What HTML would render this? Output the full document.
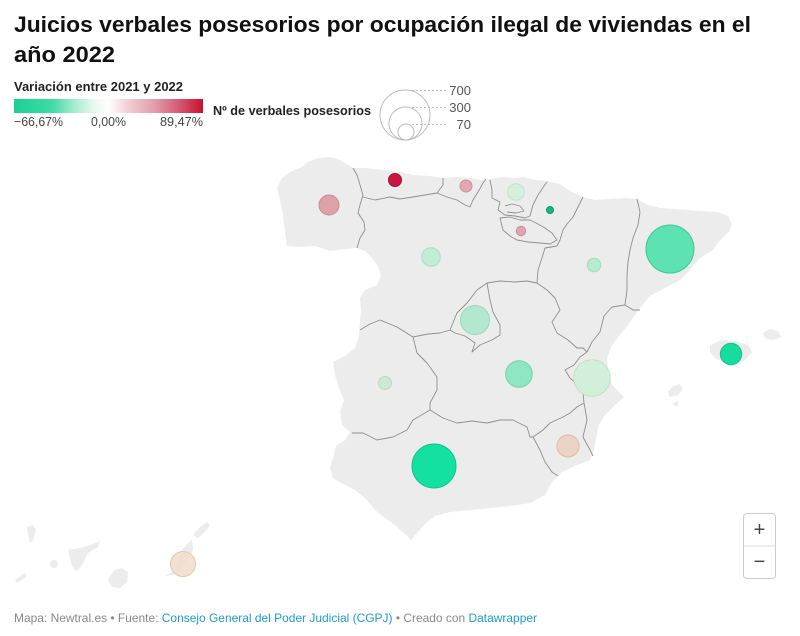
<!DOCTYPE html>
<html><head><meta charset="utf-8"><style>
html,body{margin:0;padding:0;background:#fff;}
svg{display:block;}
text{font-family:"Liberation Sans",Arial,sans-serif;}
</style></head><body>
<svg width="800" height="636" viewBox="0 0 800 636" xmlns="http://www.w3.org/2000/svg">
<defs>
<linearGradient id="g" x1="0" x2="1" y1="0" y2="0">
<stop offset="0" stop-color="#1bd095"/>
<stop offset="0.2" stop-color="#3fdaa6"/>
<stop offset="0.32" stop-color="#a6ecd0"/>
<stop offset="0.42" stop-color="#e6f8ee"/>
<stop offset="0.5" stop-color="#ffffff"/>
<stop offset="0.6" stop-color="#f2d0d6"/>
<stop offset="0.75" stop-color="#e19aa8"/>
<stop offset="0.9" stop-color="#d24a68"/>
<stop offset="1" stop-color="#c8102e"/>
</linearGradient>
</defs>
<rect width="800" height="636" fill="#fff"/>
<!-- Title -->
<text x="14" y="32" font-size="22.5" font-weight="bold" fill="#111" textLength="737" lengthAdjust="spacingAndGlyphs">Juicios verbales posesorios por ocupación ilegal de viviendas en el</text>
<text x="14" y="62" font-size="22.5" font-weight="bold" fill="#111" textLength="101" lengthAdjust="spacingAndGlyphs">año 2022</text>
<!-- Color legend -->
<text x="14" y="91" font-size="13" font-weight="bold" fill="#222" textLength="169" lengthAdjust="spacingAndGlyphs">Variación entre 2021 y 2022</text>
<rect x="14" y="99" width="189" height="14" fill="url(#g)"/>
<text x="14" y="126" font-size="13" fill="#444" textLength="49" lengthAdjust="spacingAndGlyphs">−66,67%</text>
<text x="91" y="126" font-size="13" fill="#444" textLength="35" lengthAdjust="spacingAndGlyphs">0,00%</text>
<text x="160" y="126" font-size="13" fill="#444" textLength="43" lengthAdjust="spacingAndGlyphs">89,47%</text>
<!-- Size legend -->
<text x="213" y="115" font-size="13" font-weight="bold" fill="#222" textLength="158" lengthAdjust="spacingAndGlyphs">Nº de verbales posesorios</text>
<g fill="none" stroke="#bbb" stroke-width="1">
<circle cx="405" cy="115" r="25"/>
<circle cx="405.5" cy="123.5" r="16.5"/>
<circle cx="406" cy="132" r="8"/>
</g>
<g stroke="#bbb" stroke-width="1" stroke-dasharray="2,2">
<line x1="412" y1="90.5" x2="446" y2="90.5"/>
<line x1="412" y1="107.5" x2="446" y2="107.5"/>
<line x1="412" y1="124.5" x2="446" y2="124.5"/>
</g>
<g font-size="13" fill="#555" text-anchor="end">
<text x="471" y="95">700</text>
<text x="471" y="112">300</text>
<text x="471" y="129">70</text>
</g>
<!-- Land -->
<g fill="#ececec">
<polygon points="277,188 282,178 290,172 300,168 308,162 318,158 330,157 340,160 348,165 353,168 365,168 383,170 400,172 413,175 430,176 443,178 457,177 470,178 483,180 495,178 503,177 515,178 523,177 535,180 547,181 560,184 572,192 583,197 595,200 610,199 625,198 637,199 648,205 660,208 675,209 687,210 700,211 717,212 728,216 732,224 729,232 720,240 713,250 700,258 690,270 680,280 665,288 650,296 640,308 630,322 620,335 612,345 607,358 608,372 612,385 624,397 615,405 605,415 599,425 596,438 594,450 590,460 575,466 562,472 552,482 545,495 530,503 510,506 490,508 470,510 450,512 435,516 425,524 418,532 411,540 405,534 396,526 385,518 375,510 365,498 355,490 343,484 333,478 330,468 333,458 336,446 345,440 350,432 342,425 340,412 344,400 339,388 335,375 333,362 345,356 355,348 359,336 360,322 361,310 360,298 365,290 377,285 381,276 378,266 371,257 365,251 357,248 345,249 330,251 315,246 300,247 287,246 285,232 283,215 280,200"/>
<!-- Balearics -->
<polygon points="710,345 722,340 735,341 748,345 752,352 745,360 735,365 725,363 715,358 710,352"/>
<polygon points="763,333 770,329 778,331 781,337 773,340 765,338"/>
<polygon points="668,392 673,386 680,384 683,389 678,395 670,397"/>
<polygon points="673,403 678,401 678,406 674,406"/>
<!-- Canaries -->
<polygon points="27,527 33,525 36,530 33,540 30,543 28,535"/>
<polygon points="15,580 20,576 25,573 27,576 22,580 17,583"/>
<circle cx="54" cy="564" r="4"/>
<polygon points="68,550 80,548 90,545 100,541 98,547 88,553 82,565 76,572 72,566 70,558"/>
<polygon points="110,576 115,570 122,568 128,572 127,582 120,588 112,587 108,581"/>
<polygon points="165,576 172,572 177,562 182,550 188,543 192,540 193,550 188,560 180,570 172,575"/>
<polygon points="193,535 200,527 207,522 210,525 205,532 198,538"/>
</g>
<!-- Internal borders -->
<g fill="none" stroke="#8e8e8e" stroke-width="0.9" stroke-linejoin="round">
<polyline points="353,168 357,175 360,185 363,195 360,205 358,213 364,222 365,230 360,238 357,248"/>
<polyline points="363,197 375,200 390,197 400,199 413,197 425,195 437,193 443,185 443,178"/>
<polyline points="437,193 447,197 457,200 465,205 470,207 473,200 478,192 483,183 486,179"/>
<polyline points="490,180 492,190 492,198 500,202 498,210 505,215 515,216 525,218 530,216 533,205 538,195 544,186 547,182"/>
<polygon points="500,218 503,230 510,236 517,240 528,242 540,243 550,244 557,240 552,233 545,228 538,224 530,220 520,220 510,217"/>
<polyline points="583,197 578,207 573,217 567,224 563,230 560,240 557,246"/>
<polyline points="557,246 545,248 542,258 538,270 537,283"/>
<polyline points="487,283 500,281 515,282 527,281 537,283"/>
<polyline points="537,283 547,290 555,298 560,310 552,322 557,333 568,340 577,348 583,348 587,352"/>
<polyline points="637,199 640,212 638,225 633,238 630,250 628,262 627,275 627,290 625,305 633,310 640,310"/>
<polyline points="625,305 612,307 604,316 600,332 592,342 587,352"/>
<polyline points="587,352 580,357 574,365 565,370 570,378 578,385 583,392 584,403"/>
<polyline points="584,403 577,407 570,413 563,417 550,423 543,430 533,437"/>
<polyline points="584,403 587,420 583,437 590,450 593,456"/>
<polyline points="533,437 540,450 545,462 552,472 558,476"/>
<polyline points="430,410 443,418 457,423 472,421 487,423 500,420 513,420 527,427 530,437 533,437"/>
<polyline points="413,337 417,353 427,363 437,377 437,390 430,403 430,410"/>
<polyline points="360,330 370,324 380,320 397,327 413,337 428,334 440,333 450,330"/>
<polyline points="450,330 457,313 467,303 477,290 487,283"/>
<polyline points="487,283 490,300 493,312 500,325 500,335 492,340 480,345 472,352 475,343 465,336 455,333 450,330"/>
<polyline points="430,410 413,420 407,430 393,437 377,440 363,433 352,433"/>
<polyline points="505,206 512,204 520,206 524,211 516,213 507,212"/>
</g>
<!-- Circles -->
<g stroke-width="1">
<circle cx="329" cy="205" r="10" fill="#dda2a8" stroke="#c98a92"/>
<circle cx="395" cy="180" r="6.5" fill="#c7163f" stroke="#a8102f"/>
<circle cx="466" cy="186" r="6" fill="#e2aab0" stroke="#cf909a"/>
<circle cx="516" cy="192" r="8.3" fill="#d4efdc" stroke="#bfe3c9"/>
<circle cx="550" cy="210" r="3.5" fill="#15b57b" stroke="#0f9a66"/>
<circle cx="521" cy="231" r="4.7" fill="#e3a5b0" stroke="#cf8c98"/>
<circle cx="431" cy="257" r="9.3" fill="#c1ecd5" stroke="#a9dfc1"/>
<circle cx="594" cy="265" r="6.7" fill="#b9ebd1" stroke="#9fdcbc"/>
<circle cx="670" cy="249" r="24" fill="#5de2b2" stroke="#3cc796"/>
<circle cx="475" cy="320" r="14.5" fill="#b3e8cf" stroke="#98dabb"/>
<circle cx="519" cy="374" r="13.3" fill="#8ee6c2" stroke="#6fd6aa"/>
<circle cx="385" cy="383" r="6.5" fill="#cce9d6" stroke="#b4dcc2"/>
<circle cx="592" cy="378" r="18.3" fill="#d2efd9" stroke="#bde3c6"/>
<circle cx="568" cy="446" r="11" fill="#ecd4c4" stroke="#dcb9a6"/>
<circle cx="434" cy="466" r="22" fill="#14e0a2" stroke="#10c48c"/>
<circle cx="731" cy="354" r="10.7" fill="#17dc9e" stroke="#10c48c"/>
<circle cx="183" cy="564" r="12.5" fill="#f1dfcf" fill-opacity="0.9" stroke="#e2c6ae"/>
</g>
<!-- Zoom buttons -->
<rect x="743.5" y="513.5" width="32" height="65" rx="3" fill="#fff" stroke="#cccccc"/>
<line x1="744" y1="546" x2="775" y2="546" stroke="#dddddd"/>
<text x="759.5" y="536" font-size="20" fill="#444" text-anchor="middle">+</text>
<text x="759.5" y="568" font-size="20" fill="#444" text-anchor="middle">−</text>
<!-- Footer -->
<text x="14" y="622" font-size="12" fill="#888" textLength="523" lengthAdjust="spacingAndGlyphs">Mapa: Newtral.es • Fuente: <tspan fill="#1d9bd1">Consejo General del Poder Judicial (CGPJ)</tspan> • Creado con <tspan fill="#1d9bd1">Datawrapper</tspan></text>
</svg>
</body></html>
